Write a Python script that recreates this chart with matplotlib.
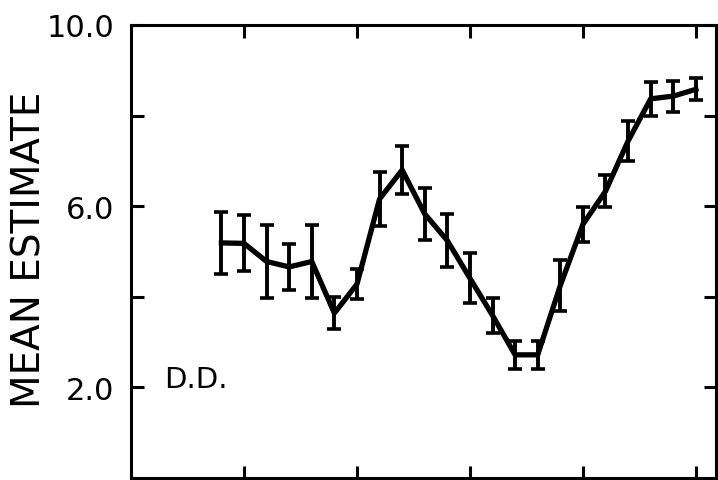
import matplotlib.pyplot as plt

# session position (x) and mean estimate with error bar half-lengths
sessions = [0.8, 1.0, 1.2, 1.4, 1.6, 1.8, 2.0, 2.2, 2.4, 2.6, 2.8,
            3.0, 3.2, 3.4, 3.6, 3.8, 4.0, 4.2, 4.4, 4.6, 4.8, 5.0]
means = [5.19, 5.18, 4.78, 4.66, 4.78, 3.64, 4.28, 6.16, 6.80, 5.83, 5.24,
         4.41, 3.59, 2.72, 2.72, 4.25, 5.60, 6.33, 7.44, 8.37, 8.43, 8.58]
errs = [0.68, 0.62, 0.81, 0.51, 0.81, 0.35, 0.33, 0.60, 0.53, 0.57, 0.59,
        0.55, 0.38, 0.31, 0.31, 0.57, 0.38, 0.35, 0.44, 0.38, 0.34, 0.24]

y_ticks = [2, 4, 6, 8, 10]
y_labels = ['2.0', '', '6.0', '', '10.0']
x_ticks = [1, 2, 3, 4, 5]

fig = plt.figure(figsize=(7.18, 4.81), dpi=100)
ax = fig.add_axes([0.1825, 0.004, 0.815, 0.942])

ax.plot(sessions, means, color='black', lw=3.8, solid_joinstyle='round')
ax.errorbar(sessions, means, yerr=errs, fmt='none', ecolor='black',
            elinewidth=2.8, capsize=5, capthick=2.6)

ax.set_xlim(0, 5.18)
ax.set_ylim(0, 10)
ax.set_xticks(x_ticks)
ax.set_xticklabels([])
ax.set_yticks(y_ticks)
ax.set_yticklabels(y_labels, fontsize=22)
ax.tick_params(direction='in', length=9, width=2.2, top=True, right=True, pad=12)
for s in ax.spines.values():
    s.set_linewidth(2.2)

ax.text(0.29, 2.0, 'D.D.', fontsize=21, va='baseline', ha='left')
fig.text(30 / 718, 1 - 250 / 481, 'MEAN ESTIMATE', rotation=90,
         fontsize=28, ha='center', va='center')

fig.savefig('out.png', dpi=100)
